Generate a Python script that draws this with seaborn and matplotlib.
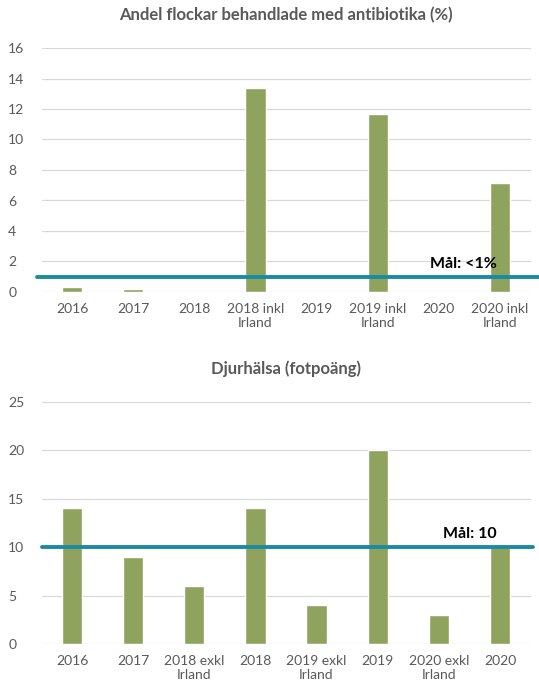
import matplotlib
matplotlib.use('Agg')
import matplotlib.pyplot as plt
import seaborn as sns
import pandas as pd

# data
ab_labels = ['2016', '2017', '2018', '2018 inkl\nIrland', '2019', '2019 inkl\nIrland', '2020', '2020 inkl\nIrland']
ab_values = [0.3, 0.2, 0, 13.4, 0, 11.7, 0, 7.15]
ab_target = 1.0
ab_title = 'Andel flockar behandlade med antibiotika (%)'

fot_labels = ['2016', '2017', '2018 exkl\nIrland', '2018', '2019 exkl\nIrland', '2019', '2020 exkl\nIrland', '2020']
fot_values = [14, 9, 6, 14, 4, 20, 3, 10]
fot_target = 10
fot_title = 'Djurhälsa (fotpoäng)'

bar_color = '#8FA35F'
line_color = '#1B8BA3'
text_color = '#595959'

sns.set_style('white')
plt.rcParams['font.family'] = ['Lato', 'DejaVu Sans']

W, H = 539, 684
fig = plt.figure(figsize=(W / 100, H / 100), dpi=100)


def panel(rect, labels, values, title, ymax, ystep, target, target_text, line_x, text_x):
    l, t, r, b = rect
    ax = fig.add_axes([l / W, 1 - b / H, (r - l) / W, (b - t) / H])
    df = pd.DataFrame({'cat': labels, 'val': values})
    sns.barplot(data=df, x='cat', y='val', color=bar_color, width=0.33,
                saturation=1, ax=ax, zorder=2)
    ax.set_ylim(0, ymax)
    ax.set_xlim(-0.5, len(labels) - 0.5)
    ax.set_yticks(range(0, ymax + 1, ystep))
    ax.yaxis.grid(True, color='#D9D9D9', linewidth=0.9, zorder=0)
    ax.set_axisbelow(True)
    for s in ax.spines.values():
        s.set_visible(False)
    ax.set_xlabel('')
    ax.set_ylabel('')
    ax.tick_params(axis='both', length=0, labelsize=10, colors=text_color, pad=8)
    ax.tick_params(axis='y', pad=24)
    for lab in ax.get_yticklabels():
        lab.set_horizontalalignment('left')
    ax.plot(line_x, [target, target], color=line_color, linewidth=2.8,
            clip_on=False, zorder=3)
    ax.text(text_x, target + ymax * 0.025, target_text, ha='center', va='bottom',
            fontsize=11.5, fontweight='bold', color='black', zorder=4)
    ax.set_title(title, fontsize=12, fontweight='bold', color=text_color, pad=20)
    return ax


panel((41.5, 48, 530.5, 292), ab_labels, ab_values, ab_title, 16, 2,
      ab_target, 'Mål: <1%', [-0.57, 7.66], 6.41)
panel((41.5, 402, 530.5, 644), fot_labels, fot_values, fot_title, 25, 5,
      fot_target, 'Mål: 10', [-0.49, 7.54], 6.5)

fig.savefig('out.png', dpi=100)
